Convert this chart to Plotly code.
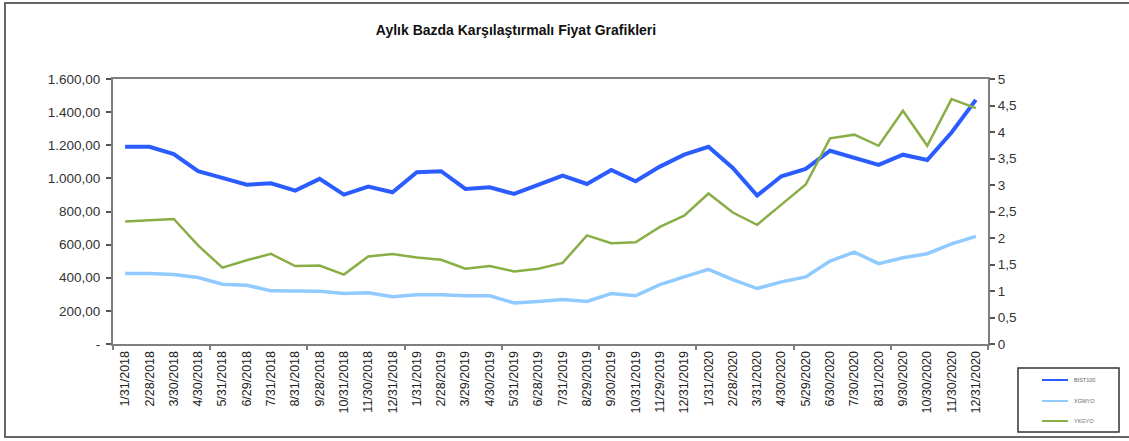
import plotly.graph_objects as go

dates = ["1/31/2018", "2/28/2018", "3/30/2018", "4/30/2018", "5/31/2018", "6/29/2018",
         "7/31/2018", "8/31/2018", "9/28/2018", "10/31/2018", "11/30/2018", "12/31/2018",
         "1/31/2019", "2/28/2019", "3/29/2019", "4/30/2019", "5/31/2019", "6/28/2019",
         "7/31/2019", "8/29/2019", "9/30/2019", "10/31/2019", "11/29/2019", "12/31/2019",
         "1/31/2020", "2/28/2020", "3/31/2020", "4/30/2020", "5/29/2020", "6/30/2020",
         "7/30/2020", "8/31/2020", "9/30/2020", "10/30/2020", "11/30/2020", "12/31/2020"]

bist100 = [1191, 1191, 1147, 1043, 1003, 962, 970, 926, 997, 902, 950, 916,
           1037, 1043, 936, 946, 906, 962, 1016, 966, 1051, 983, 1071, 1143,
           1191, 1063, 896, 1013, 1057, 1167, 1123, 1081, 1143, 1111, 1277, 1474]
xgmyo = [425, 425, 419, 401, 361, 355, 321, 321, 319, 305, 309, 285,
         297, 297, 291, 291, 248, 257, 269, 257, 305, 291, 359, 405,
         451, 389, 335, 375, 405, 501, 555, 485, 521, 545, 605, 650]
ykgyo = [2.31, 2.33, 2.36, 1.86, 1.44, 1.58, 1.70, 1.47, 1.48, 1.31, 1.65, 1.70,
         1.63, 1.59, 1.42, 1.47, 1.37, 1.42, 1.53, 2.05, 1.90, 1.92, 2.21, 2.42,
         2.84, 2.48, 2.25, 2.63, 3.01, 3.88, 3.95, 3.74, 4.40, 3.74, 4.62, 4.45]

series_names = ["BIST100", "XGMYO", "YKGYO"]
series_colors = ["#2b5cff", "#90caff", "#8aae46"]
series_widths = [4, 3.5, 2.5]

left_ticks = [0, 200, 400, 600, 800, 1000, 1200, 1400, 1600]
left_labels = ["-", "200,00", "400,00", "600,00", "800,00", "1.000,00", "1.200,00", "1.400,00", "1.600,00"]
right_ticks = [0, 0.5, 1, 1.5, 2, 2.5, 3, 3.5, 4, 4.5, 5]
right_labels = ["0", "0,5", "1", "1,5", "2", "2,5", "3", "3,5", "4", "4,5", "5"]

idx = list(range(len(dates)))

W, H = 1129, 441
L, R, T, B = 113, 988, 79, 344
pw, ph = R - L, B - T

def px_x(x):
    return (x - L) / pw

def px_y(y):
    return (B - y) / ph

FONT = "Liberation Sans, Arial, sans-serif"

fig = go.Figure()
values = [bist100, xgmyo, ykgyo]
axes = ["y", "y", "y2"]
for name, vals, col, wd, ax in zip(series_names, values, series_colors, series_widths, axes):
    fig.add_trace(go.Scatter(x=idx, y=vals, name=name, mode="lines", yaxis=ax,
                             line=dict(color=col, width=wd), showlegend=False))

# outer chart border and custom legend box (Excel style)
shapes = [dict(type="rect", xref="paper", yref="paper",
               x0=px_x(5), x1=px_x(1140), y0=px_y(437), y1=px_y(3),
               line=dict(color="#666666", width=2), layer="below"),
          dict(type="rect", xref="paper", yref="paper",
               x0=px_x(1018), x1=px_x(1119), y0=px_y(432), y1=px_y(368),
               line=dict(color="#333333", width=1.5), fillcolor="white")]
annotations = []
leg_y = [380, 401, 421]
for name, col, ly in zip(series_names, series_colors, leg_y):
    shapes.append(dict(type="line", xref="paper", yref="paper",
                       x0=px_x(1042), x1=px_x(1068), y0=px_y(ly), y1=px_y(ly),
                       line=dict(color=col, width=2)))
    annotations.append(dict(text=name, xref="paper", yref="paper",
                            x=px_x(1072), y=px_y(ly), xanchor="left", yanchor="middle",
                            showarrow=False, font=dict(size=5.5, color="#666666", family=FONT)))

fig.update_layout(
    width=W, height=H,
    margin=dict(l=L, r=W - R, t=T, b=H - B),
    paper_bgcolor="white", plot_bgcolor="white",
    font=dict(family=FONT, color="#333333"),
    title=dict(text="<b>Aylık Bazda Karşılaştırmalı Fiyat Grafikleri</b>",
               x=516 / W, xanchor="center", y=1 - 30 / H, yanchor="middle",
               font=dict(size=14, color="#111111", family=FONT)),
    xaxis=dict(range=[-0.5, len(dates) - 0.5], tickvals=idx, ticktext=dates,
               tickangle=-90, ticks="", showgrid=False, zeroline=False,
               showline=True, linecolor="#7f7f7f", linewidth=2, mirror=True,
               tickfont=dict(size=12.5, color="#222222"),
               minor=dict(tickmode="linear", tick0=-0.5, dtick=4, ticks="outside",
                          ticklen=4, tickcolor="#7f7f7f", tickwidth=1.5, showgrid=False)),
    yaxis=dict(range=[0, 1600], tickvals=left_ticks, ticktext=left_labels,
               ticks="outside", ticklen=5, tickcolor="#555555", tickwidth=1.5,
               showgrid=False, zeroline=False, showline=True, linecolor="#7f7f7f",
               linewidth=2, tickfont=dict(size=13.5, color="#333333"),
               ticklabelstandoff=3),
    yaxis2=dict(range=[0, 5], tickvals=right_ticks, ticktext=right_labels,
                overlaying="y", side="right",
                ticks="outside", ticklen=5, tickcolor="#555555", tickwidth=1.5,
                showgrid=False, zeroline=False, showline=True, linecolor="#7f7f7f",
                linewidth=2, tickfont=dict(size=13.5, color="#333333")),
    showlegend=False,
    shapes=shapes,
    annotations=annotations,
)

fig.write_html("out.html", config={"displayModeBar": False},
               post_script="document.body.style.margin='0px';")
